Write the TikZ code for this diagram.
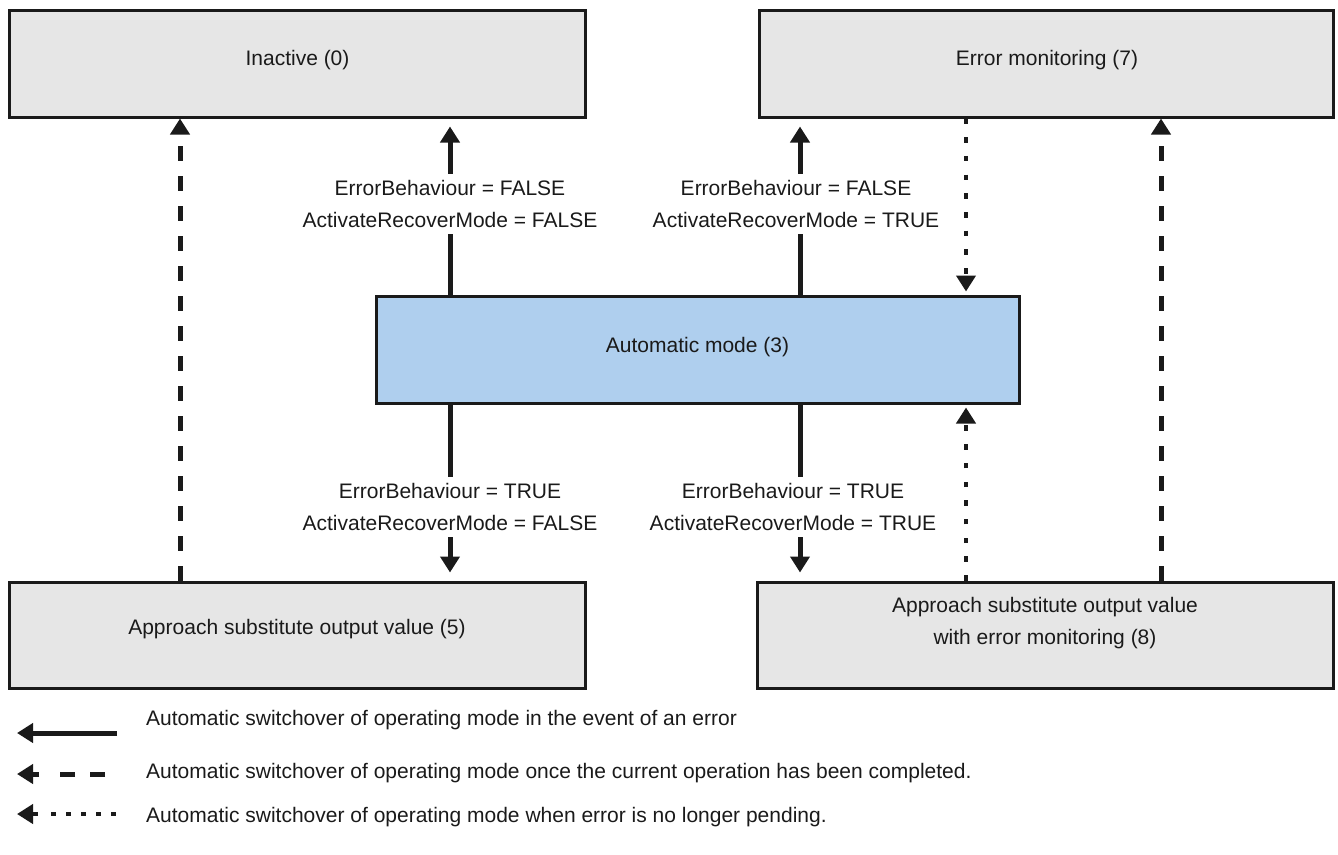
\documentclass[tikz,border=0pt]{standalone}
\usepackage{fontspec}
\setmainfont{Liberation Sans}
\usetikzlibrary{arrows.meta,calc}
\definecolor{boxgray}{HTML}{E6E6E6}
\definecolor{boxblue}{HTML}{AFCFEE}
\definecolor{ink}{HTML}{1A1A1A}
\begin{document}
\begin{tikzpicture}[x=1pt,y=-1pt,
  statebox/.style={draw=ink,line width=3pt,fill=boxgray,inner sep=0pt},
  txt/.style={font=\fontsize{21}{32}\selectfont,text=ink,align=center},
  lbl/.style={txt,inner ysep=6.5pt,inner xsep=0pt},
  solidline/.style={draw=ink,line width=5pt},
  solidarrow/.style={draw=ink,line width=5pt,-{Triangle[width=19pt,length=16pt]}},
  dashedarrow/.style={solidarrow,dash pattern=on 15pt off 15pt},
  dottedarrow/.style={draw=ink,line width=4.5pt,dash pattern=on 5.5pt off 13.2pt,-{Triangle[width=19pt,length=16pt]}},
  legdashed/.style={solidarrow,dash pattern=on 15pt off 15pt on 15pt off 21pt on 30pt off 1pt},
  legdotted/.style={dottedarrow,dash pattern=on 4.5pt off 10.5pt on 4.5pt off 10.5pt on 4.5pt off 10.5pt on 4.5pt off 10.5pt on 4.5pt off 13pt on 30pt off 1pt}]
\useasboundingbox (0,0) rectangle (1338,854);

% state boxes
\node[statebox,minimum width=576pt,minimum height=107pt] (inactive) at (297.5,63.5) {};
\node[txt] (tinactive) at (297.5,60) {Inactive (0)};
\node[statebox,minimum width=574pt,minimum height=107pt] (errmon) at (1046,63.5) {};
\node[txt] (terrmon) at (1047,60) {Error monitoring (7)};
\node[statebox,fill=boxblue,minimum width=643pt,minimum height=107pt] (auto) at (697.5,349.5) {};
\node[txt] (tauto) at (697.5,347) {Automatic mode (3)};
\node[statebox,minimum width=576pt,minimum height=106pt] (subst) at (297,635) {};
\node[txt] (tsubst) at (297,629.5) {Approach substitute output value (5)};
\node[statebox,minimum width=576pt,minimum height=106pt] (substerr) at (1045,635) {};
\node[txt] (tsubsterr) at (1045,623.5) {Approach substitute output value\\with error monitoring (8)};

% x positions of the connectors
\coordinate (xa) at (180,0);
\coordinate (xb) at (450,0);
\coordinate (xc) at (800,0);
\coordinate (xd) at (966,0);
\coordinate (xe) at (1161,0);

% condition labels
\node[lbl] (lab1) at (450,204) {ErrorBehaviour = FALSE\\ActivateRecoverMode = FALSE};
\node[lbl] (lab2) at (796,204) {ErrorBehaviour = FALSE\\ActivateRecoverMode = TRUE};
\node[lbl] (lab3) at (450,507) {ErrorBehaviour = TRUE\\ActivateRecoverMode = FALSE};
\node[lbl] (lab4) at (793,507) {ErrorBehaviour = TRUE\\ActivateRecoverMode = TRUE};

% solid connectors
\draw[solidline] (auto.north -| xb) -- (lab1.south -| xb);
\draw[solidarrow] (lab1.north -| xb) -- ($(inactive.south -| xb)+(0,8)$);
\draw[solidline] (auto.north -| xc) -- (lab2.south -| xc);
\draw[solidarrow] (lab2.north -| xc) -- ($(errmon.south -| xc)+(0,8)$);
\draw[solidline] (auto.south -| xb) -- (lab3.north -| xb);
\draw[solidarrow] (lab3.south -| xb) -- ($(subst.north -| xb)+(0,-8)$);
\draw[solidline] (auto.south -| xc) -- (lab4.north -| xc);
\draw[solidarrow] (lab4.south -| xc) -- ($(substerr.north -| xc)+(0,-8)$);

% dashed connectors
\draw[dashedarrow] (subst.north -| xa) -- (inactive.south -| xa);
\draw[dashedarrow] (substerr.north -| xe) -- (errmon.south -| xe);

% dotted connectors
\draw[dottedarrow] (errmon.south -| xd) -- ($(auto.north -| xd)+(0,-3)$);
\draw[dottedarrow] (substerr.north -| xd) -- ($(auto.south -| xd)+(0,3)$);

% legend
\coordinate (l1s) at (117,733); \coordinate (l1e) at (17,733);
\coordinate (l2s) at (105,774); \coordinate (l2e) at (17,774);
\coordinate (l3s) at (115.5,814); \coordinate (l3e) at (17,814);
\draw[solidarrow] (l1s) -- (l1e);
\draw[legdashed] (l2s) -- (l2e);
\draw[legdotted] (l3s) -- (l3e);
\node[txt,anchor=base west,inner sep=0pt] (leg1) at (146,725) {Automatic switchover of operating mode in the event of an error};
\node[txt,anchor=base west,inner sep=0pt] (leg2) at (146,778) {Automatic switchover of operating mode once the current operation has been completed.};
\node[txt,anchor=base west,inner sep=0pt] (leg3) at (146,822) {Automatic switchover of operating mode when error is no longer pending.};
\end{tikzpicture}
\end{document}
